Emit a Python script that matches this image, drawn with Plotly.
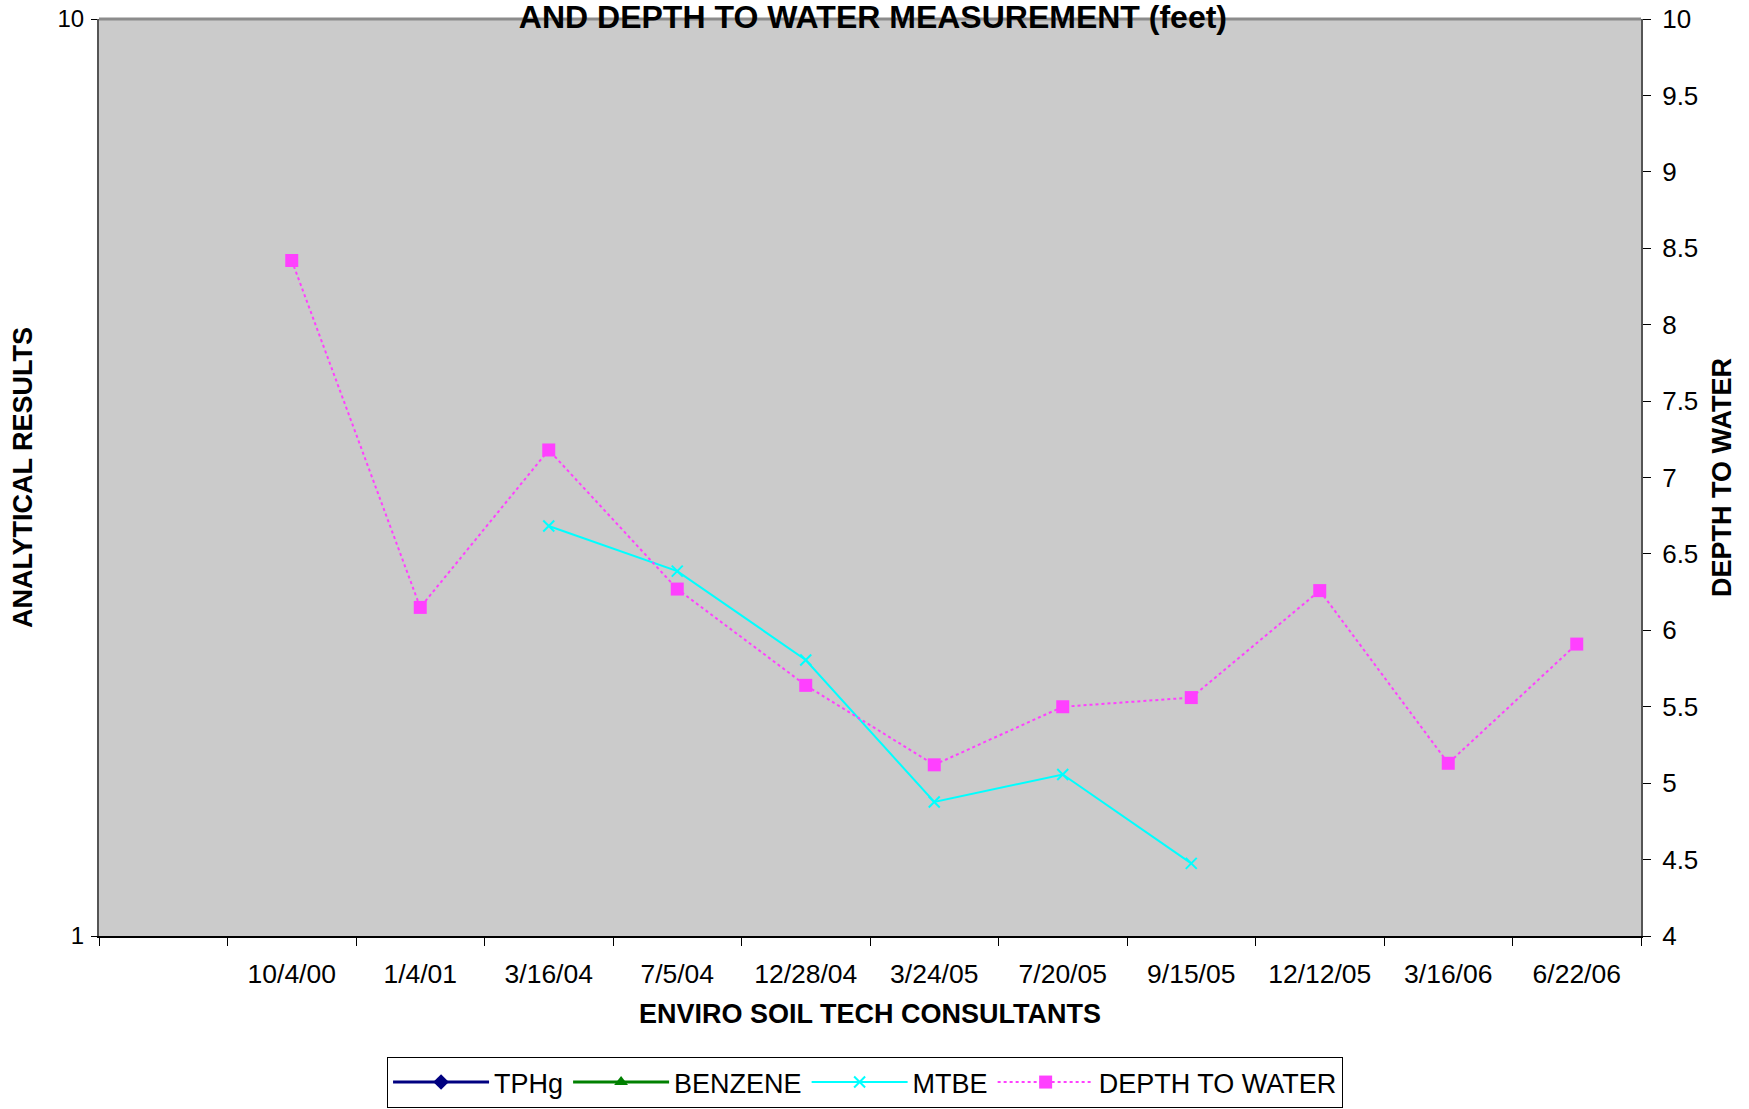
import plotly.graph_objects as go

categories = ["", "10/4/00", "1/4/01", "3/16/04", "7/5/04", "12/28/04", "3/24/05",
              "7/20/05", "9/15/05", "12/12/05", "3/16/06", "6/22/06"]
tphg = [None] * 12
benzene = [None] * 12
mtbe = [None, None, None, 2.8, 2.5, 2.0, 1.4, 1.5, 1.2, None, None, None]
depth_to_water = [None, 8.42, 6.15, 7.18, 6.27, 5.64, 5.12, 5.50, 5.56, 6.26, 5.13, 5.91]
right_ticks = [4, 4.5, 5, 5.5, 6, 6.5, 7, 7.5, 8, 8.5, 9, 9.5, 10]
left_ticks = [1, 10]

xpos = list(range(len(categories)))
FONT = "Liberation Sans, Arial, sans-serif"

fig = go.Figure()
fig.add_trace(go.Scatter(x=xpos, y=tphg, name="TPHg", mode="lines+markers",
                         line=dict(color="#000080", width=3),
                         marker=dict(symbol="diamond", size=12, color="#000080")))
fig.add_trace(go.Scatter(x=xpos, y=benzene, name="BENZENE", mode="lines+markers",
                         line=dict(color="#008000", width=3),
                         marker=dict(symbol="triangle-up", size=12, color="#008000")))
fig.add_trace(go.Scatter(x=xpos, y=mtbe, name="MTBE", mode="lines+markers",
                         line=dict(color="#00FFFF", width=2),
                         marker=dict(symbol="x-thin-open", size=11,
                                     line=dict(color="#00FFFF", width=2))))
fig.add_trace(go.Scatter(x=xpos, y=depth_to_water, name="DEPTH TO WATER", mode="lines+markers",
                         yaxis="y2",
                         line=dict(color="#FF40FF", width=2, dash="dot"),
                         marker=dict(symbol="square", size=13, color="#FF40FF")))

n = len(categories)
fig.update_layout(
    width=1749, height=1109,
    margin=dict(l=99, r=108, t=19, b=173),
    paper_bgcolor="white",
    plot_bgcolor="#CBCBCB",
    font=dict(family=FONT, size=25, color="black"),
    title=dict(text="<b>AND DEPTH TO WATER MEASUREMENT (feet)</b>",
               font=dict(family=FONT, size=32, color="black"),
               x=0.4991, xanchor="center", xref="container",
               y=1 - 17 / 1109, yanchor="middle", yref="container",
               pad=dict(t=0, b=0), automargin=False),
    xaxis=dict(
        range=[-0.5, n - 0.5], automargin=False,
        tickmode="array", tickvals=xpos, ticktext=categories,
        ticks="outside", ticklen=13, tickcolor="rgba(0,0,0,0)",
        tickfont=dict(size=26.5),
        minor=dict(tickmode="array", tickvals=[i - 0.5 for i in range(n + 1)],
                   ticks="outside", ticklen=8, tickcolor="black", tickwidth=1),
        showline=True, linecolor="black", linewidth=2,
        showgrid=False, zeroline=False,
        title=dict(text="<b>ENVIRO SOIL TECH CONSULTANTS</b>",
                   font=dict(size=27), standoff=16),
    ),
    yaxis=dict(
        type="log", range=[0, 1], automargin=False,
        tickmode="array", tickvals=left_ticks, ticktext=[str(v) for v in left_ticks],
        ticks="outside", ticklen=6, tickcolor="black", ticklabelstandoff=2,
        ticklabeloverflow="allow",
        tickfont=dict(size=24),
        showline=True, linecolor="#555555", linewidth=2,
        showgrid=False, zeroline=False,
        title=dict(text="<b>ANALYTICAL RESULTS</b>", font=dict(size=27), standoff=17),
    ),
    yaxis2=dict(
        overlaying="y", side="right", automargin=False,
        range=[4, 10], tickmode="array", tickvals=right_ticks,
        ticks="outside", ticklen=8, tickcolor="black", ticklabelstandoff=6,
        ticklabeloverflow="allow",
        tickfont=dict(size=26),
        showline=True, linecolor="#555555", linewidth=2,
        showgrid=False, zeroline=False,
        title=dict(text="<b>DEPTH TO WATER</b>", font=dict(size=27), standoff=15),
    ),
    legend=dict(
        orientation="h", x=0.4946, xanchor="center", xref="container",
        yref="container", y=1 / 1109, yanchor="bottom",
        bgcolor="white", bordercolor="black", borderwidth=1,
        font=dict(size=27), itemwidth=96, tracegroupgap=0,
    ),
    showlegend=True,
    shapes=[dict(type="line", xref="paper", yref="paper", x0=0, x1=1, y0=1, y1=1,
                 line=dict(color="#8C8C8C", width=3))],
)

fig.write_html("out.html", config={"displayModeBar": False},
               post_script="document.body.style.margin='0px';")
